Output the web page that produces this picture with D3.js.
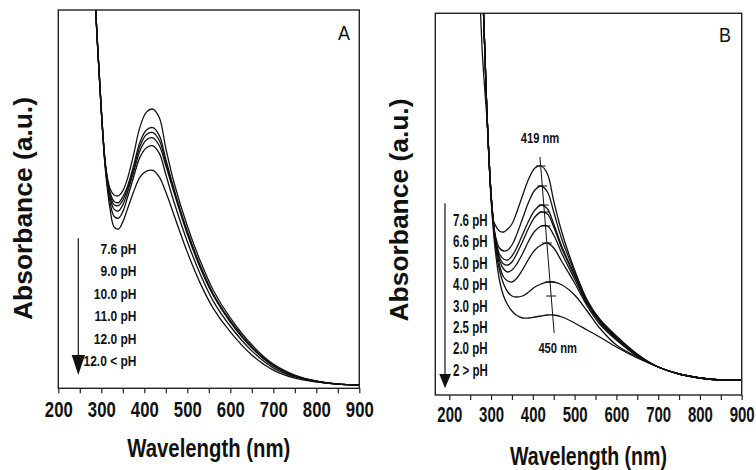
<!DOCTYPE html>
<html><head><meta charset="utf-8">
<script src="https://cdn.jsdelivr.net/npm/d3@7"></script>
<style>body{margin:0;background:#fff} svg{display:block}</style>
</head><body>
<svg id="c" width="756" height="470"></svg>
<script>
// ---------- DATA ----------
const wavelengthA = [280, 290, 300, 310, 320, 330, 340, 350, 360, 375, 390, 405, 420, 435, 450, 470, 500, 530, 560, 600, 650, 700, 750, 800, 850, 900];
const absA_pH7_6  = [1.148, 0.937, 0.738, 0.590, 0.529, 0.511, 0.509, 0.522, 0.551, 0.617, 0.691, 0.730, 0.738, 0.715, 0.635, 0.540, 0.429, 0.337, 0.260, 0.186, 0.115, 0.064, 0.035, 0.019, 0.011, 0.009];
const absA_pH9_0  = [1.148, 0.936, 0.737, 0.586, 0.519, 0.494, 0.491, 0.506, 0.531, 0.588, 0.651, 0.683, 0.689, 0.668, 0.606, 0.523, 0.415, 0.325, 0.250, 0.179, 0.110, 0.061, 0.033, 0.019, 0.011, 0.009];
const absA_pH10_0 = [1.148, 0.935, 0.736, 0.584, 0.513, 0.485, 0.483, 0.497, 0.525, 0.580, 0.640, 0.671, 0.676, 0.655, 0.597, 0.518, 0.412, 0.322, 0.248, 0.177, 0.108, 0.060, 0.033, 0.019, 0.011, 0.009];
const absA_pH11_0 = [1.148, 0.934, 0.735, 0.582, 0.506, 0.473, 0.469, 0.485, 0.515, 0.571, 0.628, 0.657, 0.662, 0.641, 0.589, 0.514, 0.408, 0.319, 0.246, 0.175, 0.107, 0.059, 0.033, 0.018, 0.011, 0.009];
const absA_pH12_0 = [1.148, 0.933, 0.734, 0.579, 0.494, 0.454, 0.450, 0.467, 0.501, 0.558, 0.611, 0.636, 0.641, 0.621, 0.565, 0.489, 0.388, 0.302, 0.231, 0.164, 0.099, 0.054, 0.030, 0.018, 0.011, 0.009];
const absA_pHgt12 = [1.148, 0.931, 0.730, 0.571, 0.477, 0.426, 0.421, 0.440, 0.471, 0.519, 0.558, 0.574, 0.576, 0.558, 0.519, 0.455, 0.360, 0.278, 0.212, 0.149, 0.088, 0.048, 0.027, 0.017, 0.011, 0.009];
const legendA = ["7.6 pH", "9.0 pH", "10.0 pH", "11.0 pH", "12.0 pH", "12.0 < pH"];

const wavelengthB = [260, 265, 270, 275, 280, 285, 290, 295, 300, 305, 310, 320, 330, 340, 350, 360, 375, 390, 405, 420, 435, 450, 470, 500, 530, 560, 600, 650, 700, 750, 800, 850, 900];
const absB_pH7_6 = [6.75, 6.00, 5.30, 4.65, 4.05, 3.45, 2.83, 2.37, 2.00, 1.75, 1.70, 1.64, 1.63, 1.66, 1.71, 1.81, 1.99, 2.16, 2.27, 2.29, 2.21, 1.94, 1.62, 1.25, 0.95, 0.76, 0.59, 0.41, 0.28, 0.21, 0.17, 0.15, 0.15];
const absB_pH6_6 = [6.75, 6.00, 5.30, 4.65, 4.05, 3.45, 2.83, 2.37, 2.00, 1.75, 1.60, 1.47, 1.44, 1.45, 1.50, 1.59, 1.76, 1.93, 2.05, 2.09, 2.03, 1.83, 1.55, 1.23, 0.94, 0.75, 0.58, 0.40, 0.28, 0.21, 0.17, 0.15, 0.15];
const absB_pH5_0 = [6.75, 6.00, 5.30, 4.65, 4.05, 3.45, 2.83, 2.37, 2.00, 1.75, 1.58, 1.41, 1.36, 1.35, 1.39, 1.46, 1.60, 1.74, 1.85, 1.90, 1.86, 1.71, 1.48, 1.20, 0.93, 0.74, 0.57, 0.40, 0.28, 0.21, 0.17, 0.15, 0.15];
const absB_pH4_0 = [6.75, 6.00, 5.30, 4.65, 4.05, 3.45, 2.83, 2.37, 2.00, 1.75, 1.57, 1.38, 1.31, 1.30, 1.33, 1.40, 1.53, 1.67, 1.78, 1.83, 1.81, 1.68, 1.46, 1.19, 0.92, 0.74, 0.57, 0.39, 0.28, 0.21, 0.17, 0.15, 0.15];
const absB_pH3_0 = [6.75, 6.00, 5.30, 4.65, 4.05, 3.45, 2.83, 2.37, 2.00, 1.75, 1.56, 1.35, 1.26, 1.23, 1.25, 1.30, 1.41, 1.54, 1.64, 1.69, 1.69, 1.60, 1.41, 1.16, 0.91, 0.73, 0.56, 0.39, 0.28, 0.21, 0.17, 0.15, 0.15];
const absB_pH2_5 = [6.75, 6.00, 5.30, 4.65, 4.05, 3.45, 2.83, 2.37, 2.00, 1.75, 1.55, 1.30, 1.18, 1.14, 1.13, 1.16, 1.25, 1.36, 1.45, 1.50, 1.52, 1.47, 1.33, 1.12, 0.89, 0.71, 0.55, 0.39, 0.28, 0.21, 0.17, 0.15, 0.15];
const absB_pH2_0 = [6.75, 6.00, 5.30, 4.65, 4.05, 3.45, 2.83, 2.37, 2.00, 1.75, 1.50, 1.25, 1.11, 1.03, 0.99, 0.98, 0.99, 1.03, 1.08, 1.11, 1.13, 1.13, 1.10, 1.00, 0.84, 0.67, 0.50, 0.38, 0.28, 0.21, 0.17, 0.15, 0.15];
const absB_pHlt2 = [5.45, 4.85, 4.30, 3.80, 3.35, 3.05, 2.77, 2.35, 1.95, 1.67, 1.45, 1.15, 0.99, 0.90, 0.84, 0.80, 0.77, 0.77, 0.78, 0.79, 0.80, 0.80, 0.78, 0.72, 0.65, 0.58, 0.48, 0.37, 0.28, 0.21, 0.17, 0.15, 0.15];
const legendB = ["7.6 pH", "6.6 pH", "5.0 pH", "4.0 pH", "3.0 pH", "2.5 pH", "2.0 pH", "2 > pH"];
const peakShiftB = [[417, 2.38], [451, 0.62]];
const peakLabelsB = ["419 nm", "450 nm"];
const xTicks = [200, 250, 300, 350, 400, 450, 500, 550, 600, 650, 700, 750, 800, 850, 900];

const seriesA = [absA_pH7_6, absA_pH9_0, absA_pH10_0, absA_pH11_0, absA_pH12_0, absA_pHgt12];
const seriesB = [absB_pH7_6, absB_pH6_6, absB_pH5_0, absB_pH4_0, absB_pH3_0, absB_pH2_5, absB_pH2_0, absB_pHlt2];

// ---------- DRAW ----------
const svg = d3.select("#c");
const NARROW = "'Liberation Sans Narrow','Arial Narrow','Liberation Sans',Arial,sans-serif";
const SANS = "'Liberation Sans',Arial,sans-serif";

function squeeze(sel, k) {
  sel.each(function () {
    const w = this.getComputedTextLength();
    if (w > 0) d3.select(this).attr("textLength", w * k).attr("lengthAdjust", "spacingAndGlyphs");
  });
}

function panel(opt) {
  const {x, y, waves, series, id} = opt;
  const g = svg.append("g");
  const [x0, x1] = x.range(), [y0, y1] = y.range();
  g.append("clipPath").attr("id", id).append("rect")
    .attr("x", x0).attr("y", y1).attr("width", x1 - x0).attr("height", y0 - y1);
  const line = d3.line().x((d, i) => x(waves[i])).y(d => y(d)).curve(d3.curveCatmullRom.alpha(0.5));
  g.append("g").attr("clip-path", `url(#${id})`).selectAll("path").data(series).join("path")
    .attr("d", line).attr("fill", "none").attr("stroke", "#111").attr("stroke-width", 1.3);
  const ax = g.append("g").attr("transform", `translate(0,${y0})`)
    .call(d3.axisBottom(x).tickValues(xTicks).tickSize(5).tickFormat(d => d % 100 === 0 ? d : ""));
  ax.select(".domain").remove();
  ax.selectAll(".tick line").attr("stroke", "#222").attr("stroke-width", 1.2);
  ax.selectAll(".tick text").attr("y", opt.tickY).attr("dy", 0)
    .attr("transform", `scale(${opt.tickScale},1)`)
    .style("font-family", NARROW).style("font-size", "22px").style("font-weight", "bold").attr("fill", "#111");
  g.append("rect").attr("x", x0).attr("y", y1).attr("width", x1 - x0).attr("height", y0 - y1)
    .attr("fill", "none").attr("stroke", "#222").attr("stroke-width", 1.4);
  g.append("text").attr("x", (x0 + x1) / 2).attr("y", opt.xTitleY).attr("text-anchor", "middle")
    .style("font-family", NARROW).style("font-size", "26px").style("font-weight", "bold").attr("fill", "#111")
    .attr("textLength", opt.xTitleLen).attr("lengthAdjust", "spacingAndGlyphs").text("Wavelength (nm)");
  g.append("text").attr("transform", `translate(${opt.yTitleX},${opt.yTitleCY}) rotate(-90)`).attr("text-anchor", "middle")
    .style("font-family", SANS).style("font-size", "25px").style("font-weight", "bold").attr("fill", "#111")
    .attr("textLength", 223).attr("lengthAdjust", "spacingAndGlyphs").text("Absorbance (a.u.)");
  g.append("text").attr("x", opt.letterX).attr("y", opt.letterY)
    .style("font-family", NARROW).style("font-size", "21px").attr("fill", "#111")
    .attr("textLength", 12).attr("lengthAdjust", "spacingAndGlyphs").text(opt.letter);
  return g;
}

// Panel A
const xA = d3.scaleLinear().domain([200, 900]).range([58.3, 359.3]);
const yA = d3.scaleLinear().domain([0, 1]).range([388.3, 10]);
const gA = panel({x: xA, y: yA, waves: wavelengthA, series: seriesA, id: "clipA", tickScale: 0.76,
  tickY: 28.7, xTitleY: 457, xTitleLen: 163, yTitleX: 32, yTitleCY: 208.5, letter: "A", letterX: 338, letterY: 40});

gA.append("line").attr("x1", 78.3).attr("x2", 78.3).attr("y1", 238.3).attr("y2", 360).attr("stroke", "#111").attr("stroke-width", 1.2);
gA.append("path").attr("d", "M71.7,355 L85,355 L78.3,375 Z").attr("fill", "#111");
gA.append("g").selectAll("text").data(legendA).join("text")
  .attr("x", 136.5).attr("y", (d, i) => 253.6 + i * 22.5).attr("text-anchor", "end")
  .style("font-family", NARROW).style("font-size", "15px").style("font-weight", "bold").attr("fill", "#111")
  .text(d => d).call(squeeze, 0.8);

// Panel B
const xB = d3.scaleLinear().domain([166.5, 900]).range([435.3, 741.7]);
const yB = d3.scaleLinear().domain([0, 3.817]).range([395, 13.3]);
const gB = panel({x: xB, y: yB, waves: wavelengthB, series: seriesB, id: "clipB", tickScale: 0.68,
  tickY: 26.7, xTitleY: 465, xTitleLen: 157, yTitleX: 408, yTitleCY: 210, letter: "B", letterX: 719, letterY: 41.7});

gB.append("line").attr("x1", 445).attr("x2", 445).attr("y1", 203.3).attr("y2", 378).attr("stroke", "#111").attr("stroke-width", 1.2);
gB.append("path").attr("d", "M439.3,374 L451,374 L445,388.3 Z").attr("fill", "#111");
gB.append("g").selectAll("text").data(legendB).join("text")
  .attr("x", 453).attr("y", (d, i) => 225.8 + i * 21.43)
  .style("font-family", NARROW).style("font-size", "16px").style("font-weight", "600").attr("fill", "#111")
  .text(d => d).call(squeeze, 0.72);

gB.append("line").attr("x1", xB(peakShiftB[0][0])).attr("y1", yB(peakShiftB[0][1]))
  .attr("x2", xB(peakShiftB[1][0])).attr("y2", yB(peakShiftB[1][1])).attr("stroke", "#111").attr("stroke-width", 1);
const peaksB = seriesB.map(s => d3.max(s.slice(12)));
const lineAt = v => {
  const t = (v - peakShiftB[0][1]) / (peakShiftB[1][1] - peakShiftB[0][1]);
  return xB(peakShiftB[0][0] + t * (peakShiftB[1][0] - peakShiftB[0][0]));
};
gB.append("g").selectAll("line").data(peaksB).join("line")
  .attr("x1", d => lineAt(d) - 5).attr("x2", d => lineAt(d) + 5)
  .attr("y1", d => yB(d)).attr("y2", d => yB(d)).attr("stroke", "#111").attr("stroke-width", 1);
gB.append("text").attr("x", 540).attr("y", 142.5).attr("text-anchor", "middle")
  .style("font-family", NARROW).style("font-size", "14px").style("font-weight", "600").attr("fill", "#111").text(peakLabelsB[0]).call(squeeze, 0.8);
gB.append("text").attr("x", 557.7).attr("y", 352.5).attr("text-anchor", "middle")
  .style("font-family", NARROW).style("font-size", "14px").style("font-weight", "600").attr("fill", "#111").text(peakLabelsB[1]).call(squeeze, 0.8);
</script>
</body></html>
